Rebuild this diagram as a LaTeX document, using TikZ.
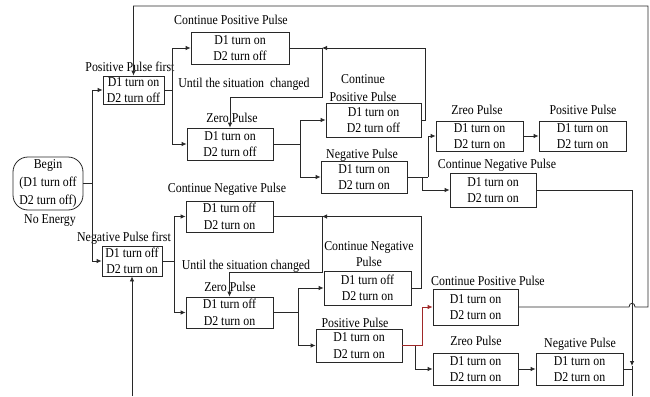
\documentclass[tikz,border=0pt]{standalone}
\usepackage{fontspec}
\setmainfont{Liberation Serif}[FakeStretch=0.88]
\usepackage{tikz}
\usetikzlibrary{arrows.meta,positioning}

\definecolor{wire}{RGB}{40,40,40}
\definecolor{redpath}{RGB}{160,40,40}

\begin{document}
\begin{tikzpicture}[
    x=1pt,y=-1pt,
    color=wire,line width=0.8pt,
    every node/.style={text=black,font=\fontsize{13.5}{16.5}\selectfont},
    state/.style={draw,align=center,inner sep=0.5pt,minimum height=32pt},
    tag/.style={anchor=base,inner sep=0pt},
    arrow/.style={-{Latex[length=5pt,width=4.5pt]}}
  ]
    \useasboundingbox (0,0) rectangle (650,396);

    % start and the two first pulses
    \node[state,rounded corners=15pt,minimum width=70pt,minimum height=53pt,font=\fontsize{13.5}{18}\selectfont] (begin) at (48,183.5) {Begin\\(D1 turn off\\D2 turn off)};
    \node[tag] (noenergy) at (50,223) {No Energy};
    \node[state,minimum width=61pt,minimum height=28pt,inner sep=0pt] (posfirst) at (133.5,90) {D1 turn on\\D2 turn off};
    \node[tag] (posfirstlbl) at (130,71.5) {Positive Pulse first};
    \node[state,minimum width=60pt,minimum height=30pt,inner sep=0pt] (negfirst) at (132,261) {D1 turn off\\D2 turn on};
    \node[tag] (negfirstlbl) at (124,241.5) {Negative Pulse first};

    % upper branch
    \node[state,minimum width=98pt] (cpp1) at (240,48) {D1 turn on\\D2 turn off};
    \node[tag] (cpp1lbl) at (231,24.5) {Continue Positive Pulse};
    \node[tag] (until1) at (244,87.5) {Until the situation\ \ changed};
    \node[state,minimum width=86pt] (zero1) at (230,144) {D1 turn on\\D2 turn off};
    \node[tag] (zero1lbl) at (232,122.5) {Zero Pulse};
    \node[state,minimum width=95pt,minimum height=34pt] (cppA) at (373.5,120) {D1 turn on\\D2 turn off};
    \node[align=center,inner sep=0pt,font=\fontsize{13.5}{18}\selectfont] (cppAlbl) at (363,88) {Continue\\Positive Pulse};
    \node[state,minimum width=86pt] (negA) at (364,177) {D1 turn on\\D2 turn on};
    \node[tag] (negAlbl) at (362,158.5) {Negative Pulse};
    \node[state,minimum width=87pt,minimum height=30pt] (zreoA) at (479.5,136) {D1 turn on\\D2 turn on};
    \node[tag] (zreoAlbl) at (477,114.5) {Zreo Pulse};
    \node[state,minimum width=87pt,minimum height=30pt] (posA) at (582.5,136) {D1 turn on\\D2 turn on};
    \node[tag] (posAlbl) at (583,114.5) {Positive Pulse};
    \node[state,minimum width=86pt,minimum height=34pt] (cnpA) at (493,190) {D1 turn on\\D2 turn on};
    \node[tag] (cnpAlbl) at (497,168.5) {Continue Negative Pulse};

    % lower branch
    \node[state,minimum width=87pt,minimum height=31pt] (cnp1) at (229.5,216.5) {D1 turn off\\D2 turn on};
    \node[tag] (cnp1lbl) at (227,192.5) {Continue Negative Pulse};
    \node[tag] (until2) at (246,269.5) {Until the situation changed};
    \node[state,minimum width=87pt,minimum height=31pt] (zero2) at (229.5,312.5) {D1 turn off\\D2 turn on};
    \node[tag] (zero2lbl) at (230,291.5) {Zero Pulse};
    \node[state,minimum width=87pt,minimum height=34pt] (cnpB) at (367.5,288) {D1 turn off\\D2 turn on};
    \node[align=center,inner sep=0pt] (cnpBlbl) at (369,254) {Continue Negative\\Pulse};
    \node[state,minimum width=86pt,minimum height=33pt] (posB) at (359,345.5) {D1 turn on\\D2 turn on};
    \node[tag] (posBlbl) at (355,327.5) {Positive Pulse};
    \node[state,minimum width=85pt,minimum height=36pt] (cppB) at (475.5,307) {D1 turn on\\D2 turn on};
    \node[tag] (cppBlbl) at (488,285.5) {Continue Positive Pulse};
    \node[state,minimum width=85pt] (zreoB) at (475.5,369) {D1 turn on\\D2 turn on};
    \node[tag] (zreoBlbl) at (476,345.5) {Zreo Pulse};
    \node[state,minimum width=87pt] (negB) at (579.5,369) {D1 turn on\\D2 turn on};
    \node[tag] (negBlbl) at (580,347.5) {Negative Pulse};

    % junctions
    \coordinate (j0) at (92,183.5);
    \coordinate (j1) at (172,90);
    \coordinate (j2) at (300,144);
    \coordinate (j3) at (174,261);
    \coordinate (j4) at (298,312.5);
    \coordinate (fb1) at (322,48);
    \coordinate (fb2) at (322,216.5);
    \coordinate (j5) at (428,177);
    \coordinate (j6) at (422,177);
    \coordinate (j7) at (415,345.5);
    \coordinate (tipR) at (632,366);
    \coordinate (outR) at (632,396);
    \coordinate (joinR) at (632,369);
    \coordinate (loopR) at (648,6);
    \coordinate (inL) at (132,396);

    % connectors
    \draw (begin.east) -- (j0);
    \draw[arrow] (j0) |- (posfirst.west);
    \draw[arrow] (j0) |- (negfirst.west);
    \draw (posfirst.east) -- (j1);
    \draw[arrow] (j1) |- (cpp1.west);
    \draw[arrow] (j1) |- (zero1.west);
    \draw[arrow] (cppA.east) -- ++(4,0) |- (fb1);
    \draw[arrow] (cpp1.east) -- (fb1) -- ++(0,49) -| (zero1.north);
    \draw (zero1.east) -- (j2);
    \draw[arrow] (j2) |- (cppA.west);
    \draw[arrow] (j2) |- (negA.west);
    \draw (negA.east) -- (j5);
    \draw[arrow] (j5) |- (zreoA.west);
    \draw[arrow] (j6) |- (cnpA.west);
    \draw[arrow] (zreoA.east) -- (posA.west);
    \draw[arrow] (cnpA.east) -| (tipR);
    \draw (tipR) -- (outR);

    \draw (negfirst.east) -- (j3);
    \draw[arrow] (j3) |- (cnp1.west);
    \draw[arrow] (j3) |- (zero2.west);
    \draw[arrow] (cnpB.east) -- ++(10,0) |- (fb2);
    \draw[arrow] (cnp1.east) -- (fb2) -- ++(0,55.5) -| (zero2.north);
    \draw (zero2.east) -- (j4);
    \draw[arrow] (j4) |- (cnpB.west);
    \draw[arrow] (j4) |- (posB.west);
    \draw[arrow] (j7) |- (zreoB.west);
    \draw[arrow,redpath] (posB.east) -- ++(20,0) |- (cppB.west);
    \draw[arrow] (zreoB.east) -- (negB.west);
    \draw (negB.east) -- (joinR);
    \draw[arrow] (cppB.east) -- (629,307) .. controls (629,302) and (635,302) .. (635,307) -- (loopR |- cppB.east) -- (loopR) -| (posfirst.north);
    \draw[arrow] (inL) -- (negfirst.south);
\end{tikzpicture}
\end{document}
